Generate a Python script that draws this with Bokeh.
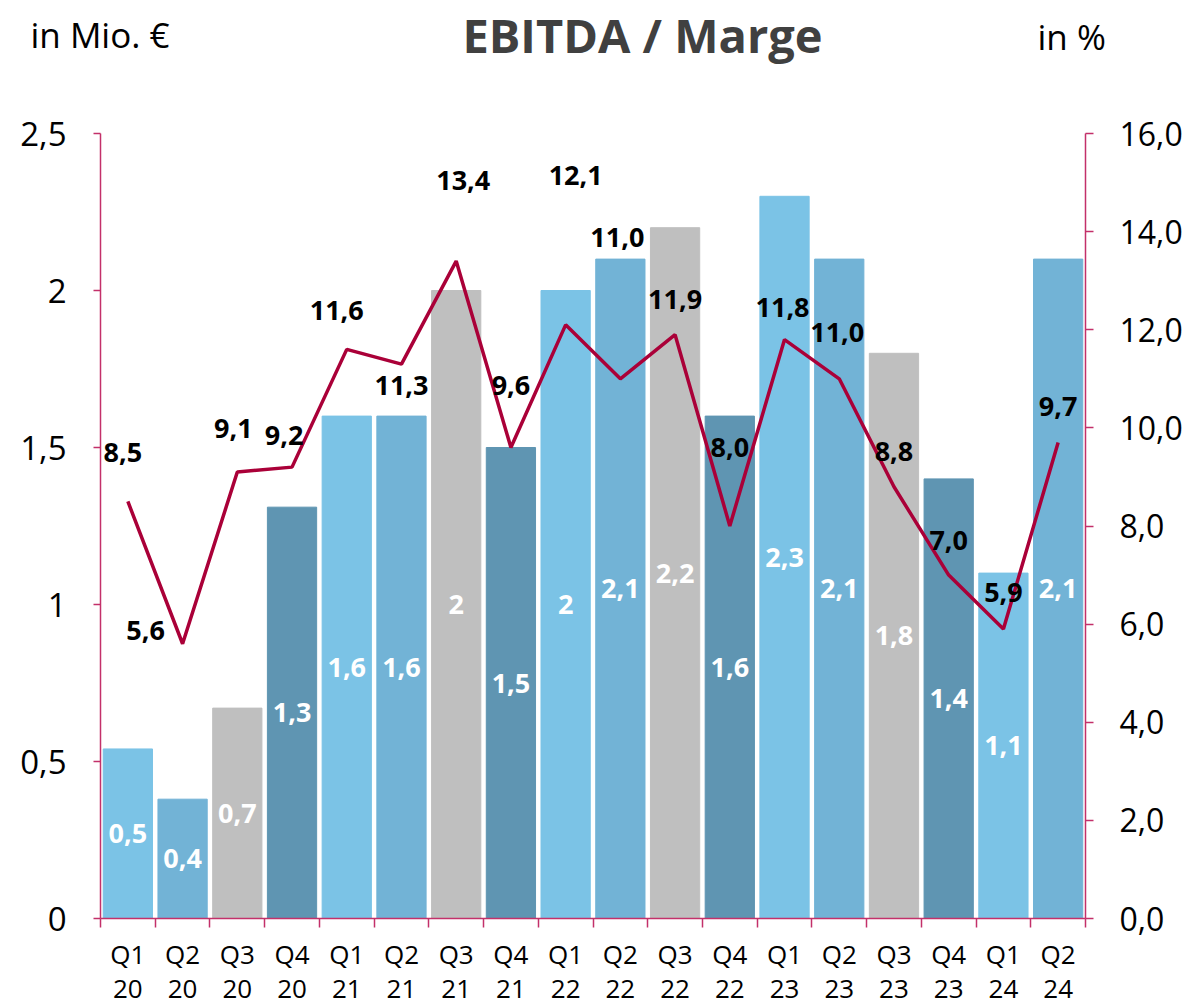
from bokeh.plotting import figure
from bokeh.models import (Range1d, LinearAxis, FixedTicker, ColumnDataSource)
from bokeh.core.properties import value
from bokeh.embed import file_html
from bokeh.resources import INLINE

# ---- data ----
quarters = ["Q1", "Q2", "Q3", "Q4", "Q1", "Q2", "Q3", "Q4", "Q1", "Q2", "Q3", "Q4",
            "Q1", "Q2", "Q3", "Q4", "Q1", "Q2"]
years = ["20", "20", "20", "20", "21", "21", "21", "21", "22", "22", "22", "22",
         "23", "23", "23", "23", "24", "24"]
ebitda = [0.54, 0.38, 0.67, 1.31, 1.6, 1.6, 2.0, 1.5, 2.0, 2.1, 2.2, 1.6,
          2.3, 2.1, 1.8, 1.4, 1.1, 2.1]
marge = [8.5, 5.6, 9.1, 9.2, 11.6, 11.3, 13.4, 9.6, 12.1, 11.0, 11.9, 8.0,
         11.8, 11.0, 8.8, 7.0, 5.9, 9.7]
left_ticks = [0, 0.5, 1, 1.5, 2, 2.5]
right_ticks = [0, 2, 4, 6, 8, 10, 12, 14, 16]
title_text = "EBITDA / Marge"
left_unit = "in Mio. €"
right_unit = "in %"

# ---- label placement (pixel offsets of the margin labels) ----
label_dx = [-5, -37, -4, -8, -10, 0, 7, 0, 10, -3, 0, 0, -2, -2, 0, 0, 0, 0]
label_dy = [-49, -13, -44, -32, -39, 21, -81, -62, -149, -141, -35, -79, -32, -46, -35, -35, -37, -36]

# ---- styles ----
quarter_colors = {"Q1": "#7BC3E6", "Q2": "#72B3D6", "Q3": "#BFBFBF", "Q4": "#5F95B2"}
AXIS = "#C3306A"
LINE = "#AA0038"
FONT = "Open Sans"
W = 1192
HEAD_H = 88

idx = list(range(len(ebitda)))


def de_num(v, decimals=1, strip=True):
    s = f"{v:.{decimals}f}"
    if strip and s.endswith(".0"):
        s = s[:-2]
    return s.replace(".", ",")


# ---- header strip (title and unit captions), pixel coordinates from top-left ----
head = figure(width=W, height=HEAD_H, output_backend="svg", toolbar_location=None,
              x_range=Range1d(0, W), y_range=Range1d(HEAD_H, 0),
              min_border=0, x_axis_type=None, y_axis_type=None)
head.outline_line_color = None
head.grid.visible = False
head.text(x=[642], y=[34], text=[title_text], text_font=value(FONT), text_font_style="bold",
          text_font_size="47px", text_color="#404040", text_align="center",
          text_baseline="middle")
head.text(x=[30], y=[34], text=[left_unit], text_font=value(FONT), text_font_size="35px",
          text_color="black", text_align="left", text_baseline="middle")
head.text(x=[1037], y=[36], text=[right_unit], text_font=value(FONT), text_font_size="35px",
          text_color="black", text_align="left", text_baseline="middle")

# ---- main chart ----
src_bars = ColumnDataSource(dict(
    x=idx, top=ebitda, mid=[v / 2 for v in ebitda],
    color=[quarter_colors[q] for q in quarters],
    lbl=[de_num(v) for v in ebitda]))
src_line = ColumnDataSource(dict(
    x=idx, y=marge, lbl=[de_num(v, 1, False) for v in marge],
    dx=label_dx, dy=label_dy))

p = figure(width=W, height=1008 - HEAD_H, output_backend="svg", toolbar_location=None,
           x_range=Range1d(-0.5, len(ebitda) - 0.5), y_range=Range1d(0, 2.5),
           min_border_left=100, min_border_right=107, min_border_top=133 - HEAD_H,
           min_border_bottom=88, x_axis_type=None, y_axis_type=None)
p.outline_line_color = None
p.grid.visible = False
p.extra_y_ranges = {"pct": Range1d(0, 16)}

# bars
p.vbar(x="x", top="top", width=0.9, color="color", source=src_bars)
p.text(x="x", y="mid", text="lbl", source=src_bars, text_color="white",
       text_font=value(FONT), text_font_style="bold", text_font_size="27px",
       text_align="center", text_baseline="middle")

# line
p.line(x="x", y="y", source=src_line, y_range_name="pct", line_color=LINE, line_width=3.5)
p.text(x="x", y="y", text="lbl", source=src_line, y_range_name="pct",
       x_offset="dx", y_offset="dy", text_color="black", text_font=value(FONT),
       text_font_style="bold", text_font_size="27px", text_align="center",
       text_baseline="middle")


# axes
def style_axis(ax):
    ax.axis_line_color = AXIS
    ax.axis_line_width = 1.5
    ax.major_tick_line_color = AXIS
    ax.major_tick_line_width = 1.5
    ax.minor_tick_line_color = AXIS
    ax.minor_tick_line_width = 1.5
    ax.major_tick_in = 0
    ax.minor_tick_in = 0
    ax.major_label_text_font = FONT
    ax.major_label_text_color = "black"


xax = LinearAxis(ticker=FixedTicker(ticks=idx, minor_ticks=[i - 0.5 for i in range(len(idx) + 1)]))
style_axis(xax)
xax.major_tick_line_color = None
xax.minor_tick_out = 9
xax.major_label_standoff = 8
xax.major_label_text_font_size = "26px"
xax.major_label_text_line_height = 0.95
xax.major_label_overrides = {i: f"{q}\n{y}" for i, (q, y) in enumerate(zip(quarters, years))}
p.add_layout(xax, "below")

lax = LinearAxis(ticker=FixedTicker(ticks=left_ticks, minor_ticks=[]))
style_axis(lax)
lax.major_tick_out = 7
lax.major_label_standoff = 27
lax.major_label_text_font_size = "33px"
lax.major_label_overrides = {t: de_num(t) for t in left_ticks}
p.add_layout(lax, "left")

rax = LinearAxis(y_range_name="pct", ticker=FixedTicker(ticks=right_ticks, minor_ticks=[]))
style_axis(rax)
rax.major_tick_out = 8
rax.major_label_standoff = 26
rax.major_label_text_font_size = "32px"
rax.major_label_overrides = {t: de_num(t, 1, False) for t in right_ticks}
p.add_layout(rax, "right")

open("out.html", "w").write(file_html([head, p], INLINE))
